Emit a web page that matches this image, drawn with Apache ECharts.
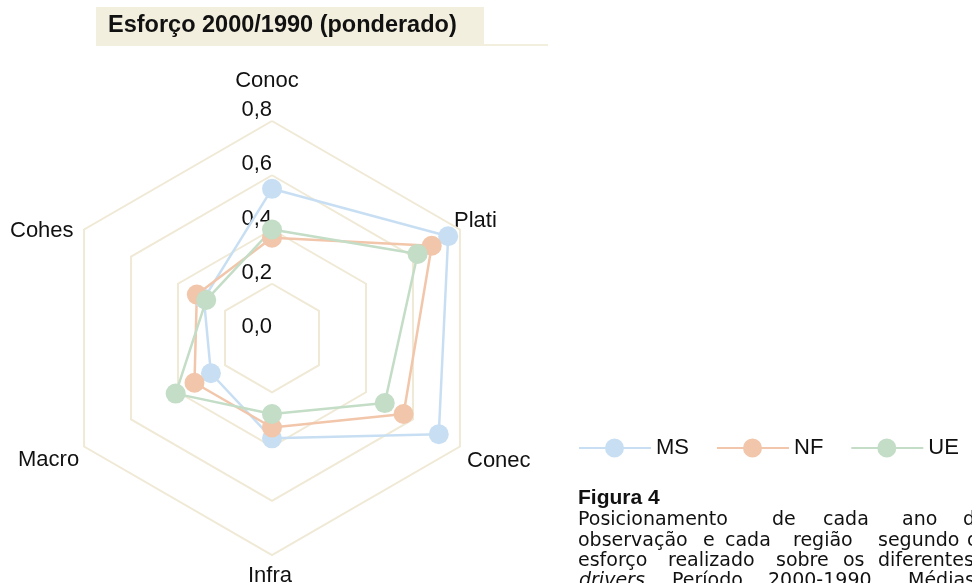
<!DOCTYPE html>
<html>
<head>
<meta charset="utf-8">
<script src="https://cdn.jsdelivr.net/npm/echarts@6/dist/echarts.min.js"></script>
<style>
  html, body { margin: 0; padding: 0; background: #fff; }
  #main { width: 972px; height: 583px; }
</style>
</head>
<body>
<div id="main"></div>
<script>
// indicators, counter-clockwise from the top (ECharts radar order)
var categories = ['Conoc', 'Cohes', 'Macro', 'Infra', 'Conec', 'Plati'];
var msValues = [0.55, 0.29, 0.26, 0.37, 0.71, 0.75];
var nfValues = [0.37, 0.32, 0.33, 0.33, 0.56, 0.68];
var ueValues = [0.40, 0.28, 0.41, 0.28, 0.48, 0.62];
var seriesNames = ['MS', 'NF', 'UE'];
var tickLabels = ['0,0', '0,2', '0,4', '0,6', '0,8'];

var FONT = 'Liberation Sans';
var BODY_FONT = 'DejaVu Sans';
var colors = ['#c8dff3', '#f2c6aa', '#c3ddc6'];
var beige = '#f3efdf';

var chart = echarts.init(document.getElementById('main'));

// where the indicator names sit (x, y, align)
var namePos = [
  [267, 81, 'center'],
  [10, 231, 'left'],
  [18, 460, 'left'],
  [270, 576, 'center'],
  [467, 461, 'left'],
  [454, 221, 'left']
];

var captionLines = [
  { y: 520, words: [['Posicionamento', 578], ['de', 772], ['cada', 823], ['ano', 902], ['de', 963]] },
  { y: 541, words: [['observação', 578], ['e', 703], ['cada', 725], ['região', 793], ['segundo', 878], ['o', 967]] },
  { y: 561, words: [['esforço', 578], ['realizado', 668], ['sobre', 776], ['os', 843], ['diferentes', 878]] },
  { y: 581, words: [['drivers.', 579, 'italic'], ['Período', 672], ['2000-1990.', 768], ['Médias', 908]] }
];

var graphics = [
  { type: 'rect', shape: { x: 96, y: 7, width: 388, height: 37 }, style: { fill: beige } },
  { type: 'rect', shape: { x: 96, y: 44, width: 452, height: 2 }, style: { fill: beige } },
  {
    type: 'text', x: 108, y: 26,
    style: { text: 'Esforço 2000/1990 (ponderado)', fontFamily: FONT, fontWeight: 'bold', fontSize: 23.5, fill: '#111', verticalAlign: 'middle' }
  },
  {
    type: 'text', x: 578, y: 498,
    style: { text: 'Figura 4', fontFamily: FONT, fontWeight: 'bold', fontSize: 21, fill: '#111', verticalAlign: 'middle' }
  }
];

categories.forEach(function (c, i) {
  graphics.push({
    type: 'text', x: namePos[i][0], y: namePos[i][1],
    style: { text: c, fontFamily: FONT, fontSize: 22, fill: '#111', align: namePos[i][2], verticalAlign: 'middle' }
  });
});

captionLines.forEach(function (line) {
  line.words.forEach(function (w) {
    graphics.push({
      type: 'text', x: w[1], y: line.y,
      style: { text: w[0], fontFamily: BODY_FONT, fontSize: 19, fontStyle: w[2] || 'normal', fill: '#111', verticalAlign: 'middle' }
    });
  });
});

var option = {
  backgroundColor: '#fff',
  animation: false,
  color: colors,
  legend: {
    left: 574,
    top: 432,
    itemWidth: 72,
    itemHeight: 19,
    itemGap: 28,
    icon: 'path://M0,8.5H72V10.5H0Z M26,9.5A9.5,9.5,0,1,1,45,9.5A9.5,9.5,0,1,1,26,9.5Z',
    textStyle: { fontFamily: FONT, fontSize: 22, color: '#111' },
    data: seriesNames
  },
  radar: {
    center: [272, 338],
    radius: 217,
    startAngle: 90,
    splitNumber: 4,
    shape: 'polygon',
    axisName: { show: false },
    axisLine: { show: false },
    axisTick: { show: false },
    splitArea: { show: false },
    splitLine: { lineStyle: { color: '#efe9d5', width: 2 } },
    indicator: categories.map(function (c, i) {
      var ind = { name: c, min: 0, max: 0.8 };
      if (i === 0) {
        ind.axisLabel = {
          show: true,
          margin: 0,
          align: 'right',
          verticalAlign: 'bottom',
          fontFamily: FONT,
          fontSize: 22,
          color: '#111',
          formatter: function (v) { return tickLabels[Math.round(v / 0.2)]; }
        };
      }
      return ind;
    })
  },
  series: [{
    type: 'radar',
    symbol: 'circle',
    symbolSize: 20,
    data: [
      { name: seriesNames[0], value: msValues, itemStyle: { color: colors[0] }, lineStyle: { color: colors[0], width: 2.5 } },
      { name: seriesNames[1], value: nfValues, itemStyle: { color: colors[1] }, lineStyle: { color: colors[1], width: 2.5 } },
      { name: seriesNames[2], value: ueValues, itemStyle: { color: colors[2] }, lineStyle: { color: colors[2], width: 2.5 } }
    ]
  }],
  graphic: graphics
};

chart.setOption(option);
</script>
</body>
</html>
